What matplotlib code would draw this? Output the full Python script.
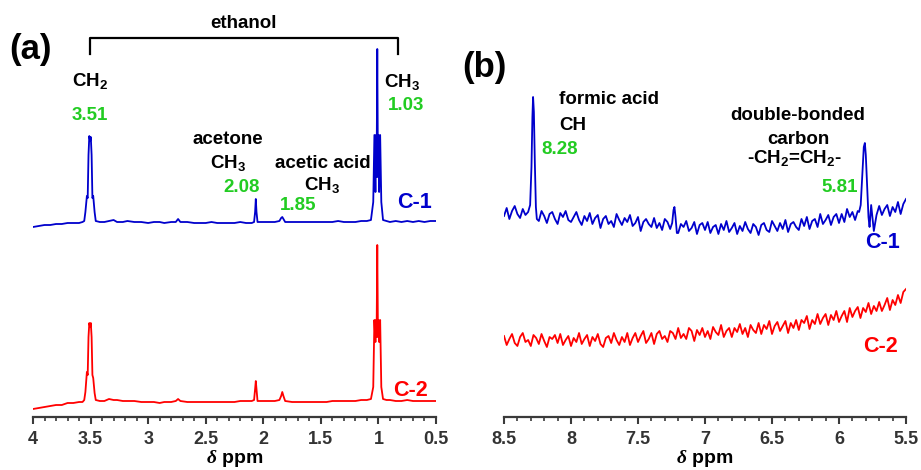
import numpy as np
import matplotlib
matplotlib.use('Agg')
import matplotlib.pyplot as plt

plt.rcParams['font.family'] = ['Liberation Sans', 'DejaVu Sans']
plt.rcParams['font.weight'] = 'bold'
plt.rcParams['mathtext.fontset'] = 'custom'
plt.rcParams['mathtext.rm'] = 'Liberation Sans:bold'
plt.rcParams['mathtext.bf'] = 'Liberation Sans:bold'
plt.rcParams['mathtext.it'] = 'Liberation Serif:italic'
plt.rcParams['mathtext.default'] = 'bf'

BLUE = '#0000cc'
RED = '#ff0000'
GREEN = '#22cc22'
AXC = '#3a3a3a'

# ---- panel (a): 4.0 - 0.5 ppm, intensity in a.u. (trace C-1 on top, C-2 below)
a_ppm = [4.00, 3.95, 3.90, 3.85, 3.80, 3.75, 3.70, 3.65, 3.60, 3.57,
         3.555, 3.545, 3.532, 3.525, 3.518, 3.511, 3.504, 3.498, 3.491, 3.484,
         3.477, 3.465, 3.455, 3.42, 3.38, 3.34, 3.30, 3.27,
         3.22, 3.18, 3.12, 3.06, 3.00, 2.95, 2.90, 2.86, 2.80, 2.76,
         2.74, 2.72, 2.66, 2.60, 2.55, 2.50, 2.45, 2.40, 2.35, 2.30,
         2.25, 2.20, 2.15, 2.10, 2.08, 2.071, 2.065, 2.059, 2.05, 2.00,
         1.95, 1.90, 1.86, 1.845, 1.835, 1.825, 1.81, 1.75, 1.70, 1.65,
         1.60, 1.55, 1.50, 1.45, 1.40, 1.35, 1.30, 1.25, 1.20, 1.15,
         1.10, 1.065, 1.045, 1.035, 1.026, 1.021, 1.016, 1.010, 1.004, 0.999,
         0.994, 0.985, 0.975, 0.960, 0.93, 0.90, 0.85, 0.80, 0.75, 0.70,
         0.65, 0.60, 0.55, 0.50]
c1_a = [190, 191, 192, 192, 193, 193, 194, 194, 194, 195,
        196, 205, 221, 219, 262, 281, 276, 280, 262, 219,
        221, 205, 196, 195, 195, 196, 197, 195,
        195, 196, 195, 195, 194, 195, 195, 194, 195, 195,
        198, 195, 195, 194, 194, 194, 195, 194, 194, 194,
        194, 195, 194, 194, 195, 205, 218, 205, 195, 195,
        195, 195, 196, 199, 200, 198, 195, 195, 195, 195,
        195, 195, 195, 195, 195, 196, 195, 195, 195, 196,
        196, 197, 215, 282, 225, 282, 240, 368, 240, 282,
        225, 282, 215, 197, 196, 195, 196, 195, 196, 195,
        196, 195, 196, 196]
c2_a = [8, 9, 10, 11, 12, 12, 14, 14, 15, 15,
        17, 25, 45, 42, 80, 94, 90, 94, 80, 42,
        39, 24, 17, 16, 16, 18, 17, 17,
        16, 16, 16, 15, 15, 15, 14, 15, 15, 16,
        18, 16, 15, 15, 15, 15, 15, 15, 15, 15,
        15, 16, 16, 16, 17, 28, 36, 28, 16, 16,
        16, 16, 17, 21, 25, 21, 16, 15, 15, 15,
        15, 15, 15, 15, 16, 16, 16, 16, 16, 17,
        17, 18, 30, 97, 75, 97, 80, 172, 80, 97,
        75, 97, 30, 18, 17, 17, 16, 16, 17, 16,
        16, 16, 16, 16]

# ---- panel (b): 8.5 - 5.5 ppm, sampled every 0.02 ppm
b_grid = np.round(np.linspace(8.5, 5.5, 151), 3)
c1_b = [201, 209, 198, 206, 211, 203, 199, 208, 202, 205,
        206, 320, 206, 196, 206, 201, 194, 203, 205, 198,
        193, 204, 200, 206, 197, 195, 200, 205, 197, 192,
        201, 196, 204, 193, 199, 202, 189, 198, 201, 193,
        196, 190, 203, 197, 192, 199, 195, 202, 191, 194,
        200, 186, 195, 198, 193, 190, 199, 189, 194, 187,
        198, 195, 188, 200, 191, 184, 193, 190, 196, 186,
        189, 195, 183, 192, 194, 187, 195, 184, 190, 192,
        183, 193, 187, 196, 185, 189, 194, 183, 191, 186,
        195, 188, 184, 193, 190, 182, 192, 194, 187, 185,
        196, 191, 186, 194, 188, 197, 185, 193, 195, 190,
        187, 198, 191, 200, 188, 196, 198, 190, 203, 193,
        197, 202, 192, 200, 203, 194, 203, 195, 208, 200,
        205, 197, 206, 205, 250, 262, 200, 212, 186, 202,
        211, 202, 208, 212, 201, 210, 205, 215, 203, 213,
        218]
c2_b = [81, 72, 78, 83, 74, 71, 80, 84, 75, 77,
        71, 82, 79, 73, 83, 76, 70, 80, 78, 82,
        74, 83, 72, 77, 81, 71, 79, 75, 84, 73,
        78, 82, 71, 80, 76, 83, 73, 70, 79, 81,
        74, 84, 77, 72, 80, 75, 84, 72, 79, 84,
        75, 81, 86, 74, 78, 84, 73, 83, 86, 78,
        81, 75, 86, 84, 78, 89, 79, 83, 78, 89,
        86, 76, 87, 82, 89, 80, 86, 78, 90, 85,
        82, 92, 80, 86, 89, 80, 89, 85, 93, 83,
        89, 80, 92, 87, 84, 94, 83, 92, 88, 96,
        83, 91, 95, 86, 91, 96, 84, 94, 89, 97,
        87, 97, 94, 101, 88, 97, 93, 103, 93, 99,
        103, 92, 102, 97, 106, 95, 101, 106, 95, 109,
        100, 106, 110, 99, 109, 105, 114, 103, 111, 106,
        115, 106, 112, 119, 107, 117, 112, 122, 114, 125,
        128]
# peaks of C-1 in panel (b): formic acid CH, small 7.23 signal, -CH2=CH2-
pk_formic_ppm = [8.320, 8.305, 8.295, 8.288, 8.283, 8.277, 8.270, 8.262, 8.255]
pk_formic_val = [205, 212, 250, 300, 320, 305, 255, 210, 198]
pk_723_ppm = [7.245, 7.235, 7.228, 7.220, 7.210]
pk_723_val = [194, 207, 210, 200, 184]
pk_581_ppm = [5.850, 5.838, 5.825, 5.815, 5.807, 5.800, 5.790, 5.780, 5.772]
pk_581_val = [205, 212, 245, 270, 274, 262, 230, 200, 190]


def merge(gx, gy, peaks):
    gx = np.asarray(gx, float)
    gy = np.asarray(gy, float)
    keep = np.ones(len(gx), bool)
    xs, ys = [], []
    for px, py in peaks:
        keep &= ~((gx >= min(px)) & (gx <= max(px)))
        xs.append(np.asarray(px, float))
        ys.append(np.asarray(py, float))
    x = np.concatenate([gx[keep]] + xs)
    y = np.concatenate([gy[keep]] + ys)
    o = np.argsort(-x)
    return x[o], y[o]


fig = plt.figure(figsize=(9.21, 4.70), dpi=100)
axa = fig.add_axes([33 / 921, 53 / 470, 403 / 921, 397 / 470])
axb = fig.add_axes([504 / 921, 53 / 470, 402 / 921, 397 / 470])

for ax, lo, hi in ((axa, 4.0, 0.5), (axb, 8.5, 5.5)):
    ax.set_xlim(lo, hi)
    ax.set_ylim(0, 397)
    for s in ('left', 'right', 'top'):
        ax.spines[s].set_visible(False)
    ax.spines['bottom'].set_color(AXC)
    ax.spines['bottom'].set_linewidth(1.6)
    ax.set_yticks([])
    ax.set_xticks(np.arange(min(lo, hi), max(lo, hi) + 0.01, 0.5))
    ax.set_xticks(np.arange(min(lo, hi), max(lo, hi) + 0.01, 0.1), minor=True)
    ax.tick_params(axis='x', which='major', direction='out', length=5, width=1.5,
                   color=AXC, labelsize=13, labelcolor='#333333', pad=5)
    ax.tick_params(axis='x', which='minor', direction='out', length=3, width=1.2, color=AXC)
    ax.set_xticklabels(['%g' % t for t in ax.get_xticks()], fontweight='bold')
    ax.set_xlabel(r'$\mathit{\delta}$ ppm', fontsize=14, fontweight='bold', labelpad=0)
    ax.patch.set_alpha(0)

# panel (a)
axa.plot(a_ppm, c1_a, color=BLUE, lw=1.3)
axa.plot(a_ppm, c2_a, color=RED, lw=1.3)

axa.plot([3.504, 3.504, 0.826, 0.826], [363, 379, 379, 363], color='black', lw=1.6, clip_on=False)
axa.text(2.174, 394, 'ethanol', ha='center', va='center', fontsize=13.5)

lab = dict(ha='center', va='center', fontsize=13.5, color='black')
num = dict(ha='center', va='center', fontsize=13.5, color=GREEN)
axa.text(3.504, 336, 'CH$_2$', **lab)
axa.text(3.504, 301, '3.51', **num)
axa.text(2.304, 277, 'acetone', **lab)
axa.text(2.304, 254, 'CH$_3$', **lab)
axa.text(2.191, 229, '2.08', **num)
axa.text(1.487, 254, 'acetic acid', **lab)
axa.text(1.487, 232, 'CH$_3$', **lab)
axa.text(1.696, 212, '1.85', **num)
axa.text(0.791, 335, 'CH$_3$', **lab)
axa.text(0.757, 311, '1.03', **num)
axa.text(0.687, 214, 'C-1', ha='center', va='center', fontsize=15.5, color=BLUE)
axa.text(0.722, 27, 'C-2', ha='center', va='center', fontsize=15.5, color=RED)

# panel (b)
bx1, by1 = merge(b_grid, c1_b, [(pk_formic_ppm, pk_formic_val),
                                (pk_723_ppm, pk_723_val),
                                (pk_581_ppm, pk_581_val)])
axb.plot(bx1, by1, color=BLUE, lw=1.3)
axb.plot(b_grid, c2_b, color=RED, lw=1.3)

axb.text(8.09, 317, 'formic acid', ha='left', va='center', fontsize=13.5)
axb.text(8.09, 291, 'CH', ha='left', va='center', fontsize=13.5)
axb.text(8.224, 267, '8.28', ha='left', va='center', fontsize=13.5, color=GREEN)
axb.text(6.306, 301, 'double-bonded', **lab)
axb.text(6.306, 278, 'carbon', **lab)
axb.text(6.336, 259, '-CH$_2$=CH$_2$-', **lab)
axb.text(5.993, 229, '5.81', **num)
axb.text(5.672, 175, 'C-1', ha='center', va='center', fontsize=15.5, color=BLUE)
axb.text(5.687, 70, 'C-2', ha='center', va='center', fontsize=15.5, color=RED)

fig.text(30 / 921, 1 - 50 / 470, '(a)', ha='center', va='center', fontsize=25, fontweight='bold')
fig.text(484 / 921, 1 - 67 / 470, '(b)', ha='center', va='center', fontsize=25, fontweight='bold')

fig.savefig('out.png', dpi=100)
